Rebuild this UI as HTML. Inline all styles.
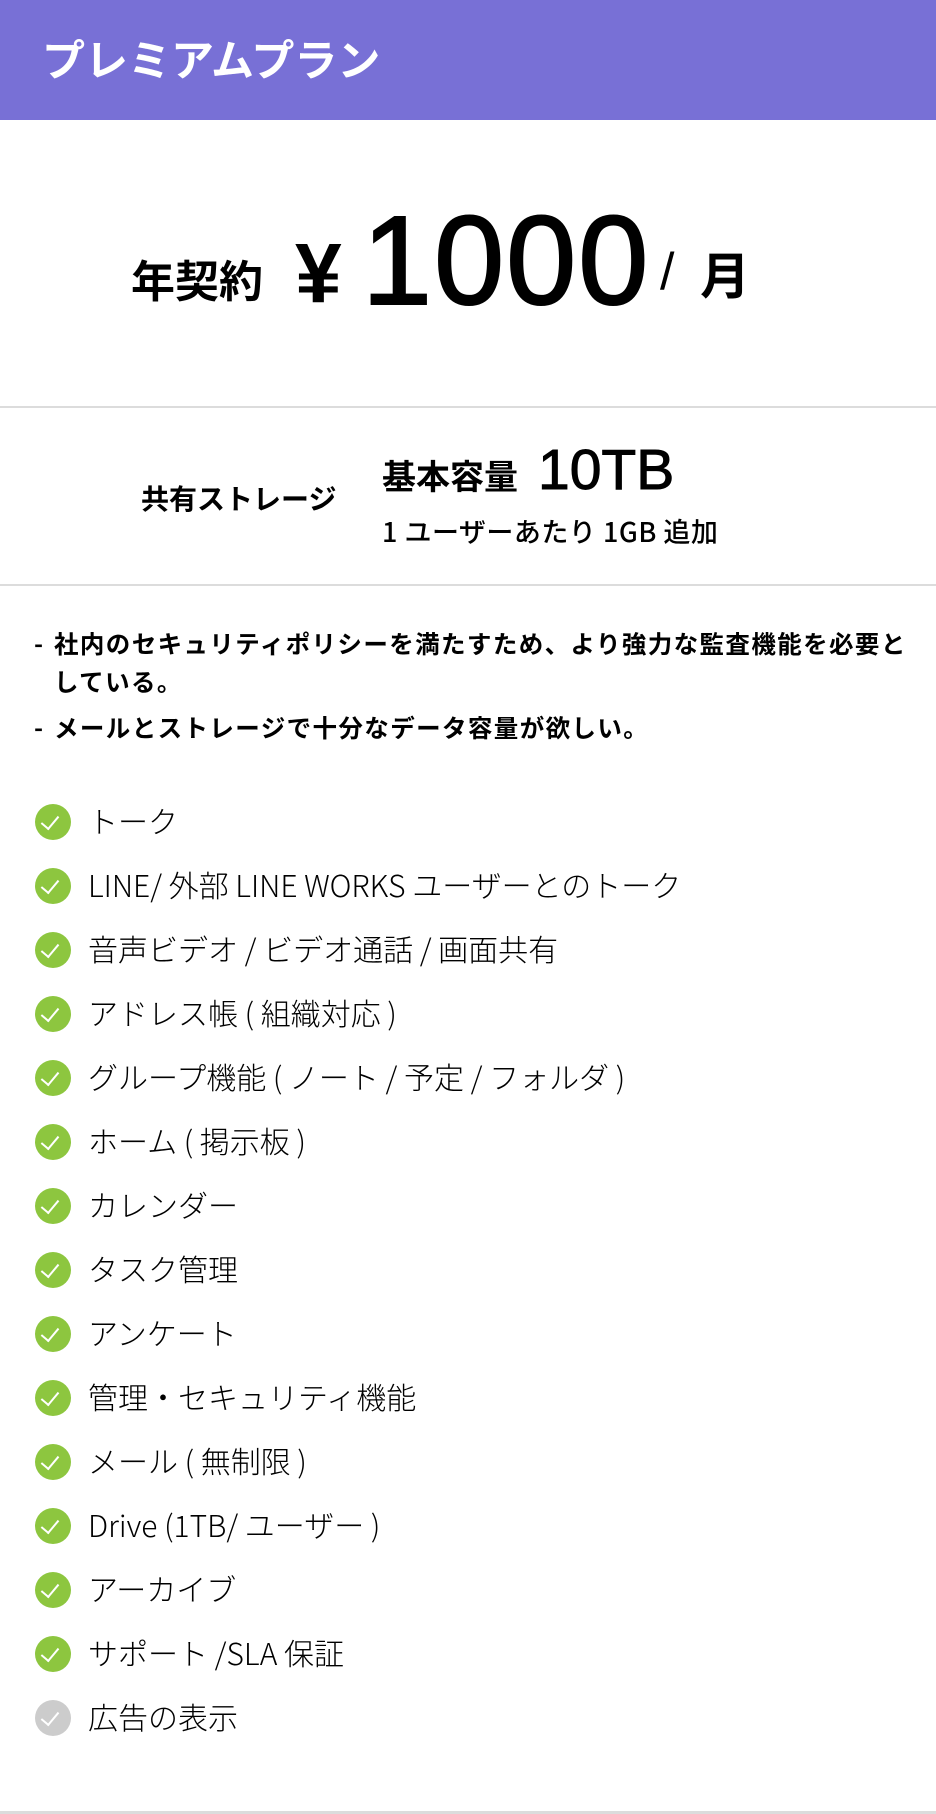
<!DOCTYPE html>
<html><head><meta charset="utf-8"><style>
body{margin:0;width:936px;height:1814px;position:relative;background:#fff;font-family:"Liberation Sans","Noto Sans CJK JP",sans-serif;color:#000;overflow:hidden}
.a{position:absolute;white-space:nowrap}
.hdr{position:absolute;left:0;top:0;width:936px;height:120px;background:#7870d6}
.ln{position:absolute;left:0;width:936px;height:2px;background:#dcdcdc}
.ck{position:absolute;left:35px;width:36px;height:36px;border-radius:50%;background:#8dc63f}
.ck:after{content:"";position:absolute;left:10px;top:8px;width:8px;height:15px;border-right:2.5px solid #fff;border-bottom:2.5px solid #fff;transform:rotate(40deg)}
.it{position:absolute;left:88px;font-family:"Noto Sans CJK JP",sans-serif;font-weight:300;font-size:30px;line-height:36px;white-space:nowrap}
.b{font-weight:bold;font-size:24.5px;letter-spacing:1.4px;font-family:"Noto Sans CJK JP",sans-serif}
</style></head><body>
<div class="hdr"></div>
<div class="a" style="left:42px;top:30px;font-size:43px;font-weight:bold;color:#fff;letter-spacing:0px;font-family:'Noto Sans CJK JP',sans-serif;line-height:56px">プレミアムプラン</div>

<div class="a" style="left:131px;top:248px;font-size:44px;font-weight:bold;line-height:60px;font-family:'Noto Sans CJK JP',sans-serif">年契約</div>
<div class="a" style="left:295px;top:228px;font-size:84px;font-weight:bold;line-height:90px">¥</div>
<div class="a" style="left:362px;top:196px;font-size:126px;line-height:130px;letter-spacing:2px;-webkit-text-stroke:2px #000">1000</div>
<div class="a" style="left:660px;top:242px;font-size:52px;line-height:60px">/</div>
<div class="a" style="left:700px;top:243px;font-size:50px;font-weight:bold;line-height:60px;font-family:'Noto Sans CJK JP',sans-serif">月</div>

<div class="ln" style="top:406px"></div>
<div class="a" style="left:141px;top:480px;font-size:28px;font-weight:bold;line-height:36px;font-family:'Noto Sans CJK JP',sans-serif">共有ストレージ</div>
<div class="a" style="left:382px;top:453px;font-size:34px;font-weight:bold;line-height:44px;font-family:'Noto Sans CJK JP',sans-serif">基本容量</div>
<div class="a" style="left:538px;top:438px;font-size:57px;line-height:64px;-webkit-text-stroke:1px #000">10TB</div>
<div class="a" style="left:382px;top:513px;font-size:27px;font-weight:500;line-height:36px;letter-spacing:0.5px;font-family:'Noto Sans CJK JP',sans-serif">1 ユーザーあたり 1GB 追加</div>
<div class="ln" style="top:584px"></div>

<div class="a b" style="left:34px;top:626px;line-height:36px">-</div>
<div class="a b" style="left:54px;top:626px;line-height:36px">社内のセキュリティポリシーを満たすため、より強力な監査機能を必要と</div>
<div class="a b" style="left:54px;top:664px;line-height:36px">している。</div>
<div class="a b" style="left:34px;top:710px;line-height:36px">-</div>
<div class="a b" style="left:54px;top:710px;line-height:36px">メールとストレージで十分なデータ容量が欲しい。</div>

<div class="ck" style="top:804px"></div><div class="it" style="top:802px">トーク</div>
<div class="ck" style="top:868px"></div><div class="it" style="top:866px">LINE/ 外部 LINE WORKS ユーザーとのトーク</div>
<div class="ck" style="top:932px"></div><div class="it" style="top:930px">音声ビデオ / ビデオ通話 / 画面共有</div>
<div class="ck" style="top:996px"></div><div class="it" style="top:994px">アドレス帳 ( 組織対応 )</div>
<div class="ck" style="top:1060px"></div><div class="it" style="top:1058px">グループ機能 ( ノート / 予定 / フォルダ )</div>
<div class="ck" style="top:1124px"></div><div class="it" style="top:1122px">ホーム ( 掲示板 )</div>
<div class="ck" style="top:1188px"></div><div class="it" style="top:1186px">カレンダー</div>
<div class="ck" style="top:1252px"></div><div class="it" style="top:1250px">タスク管理</div>
<div class="ck" style="top:1316px"></div><div class="it" style="top:1314px">アンケート</div>
<div class="ck" style="top:1380px"></div><div class="it" style="top:1378px">管理・セキュリティ機能</div>
<div class="ck" style="top:1444px"></div><div class="it" style="top:1442px">メール ( 無制限 )</div>
<div class="ck" style="top:1508px"></div><div class="it" style="top:1506px">Drive (1TB/ ユーザー )</div>
<div class="ck" style="top:1572px"></div><div class="it" style="top:1570px">アーカイブ</div>
<div class="ck" style="top:1636px"></div><div class="it" style="top:1634px">サポート /SLA 保証</div>
<div class="ck" style="top:1700px;background:#cccccc"></div><div class="it" style="top:1698px">広告の表示</div>

<div class="ln" style="top:1811px;height:3px"></div>
</body></html>
